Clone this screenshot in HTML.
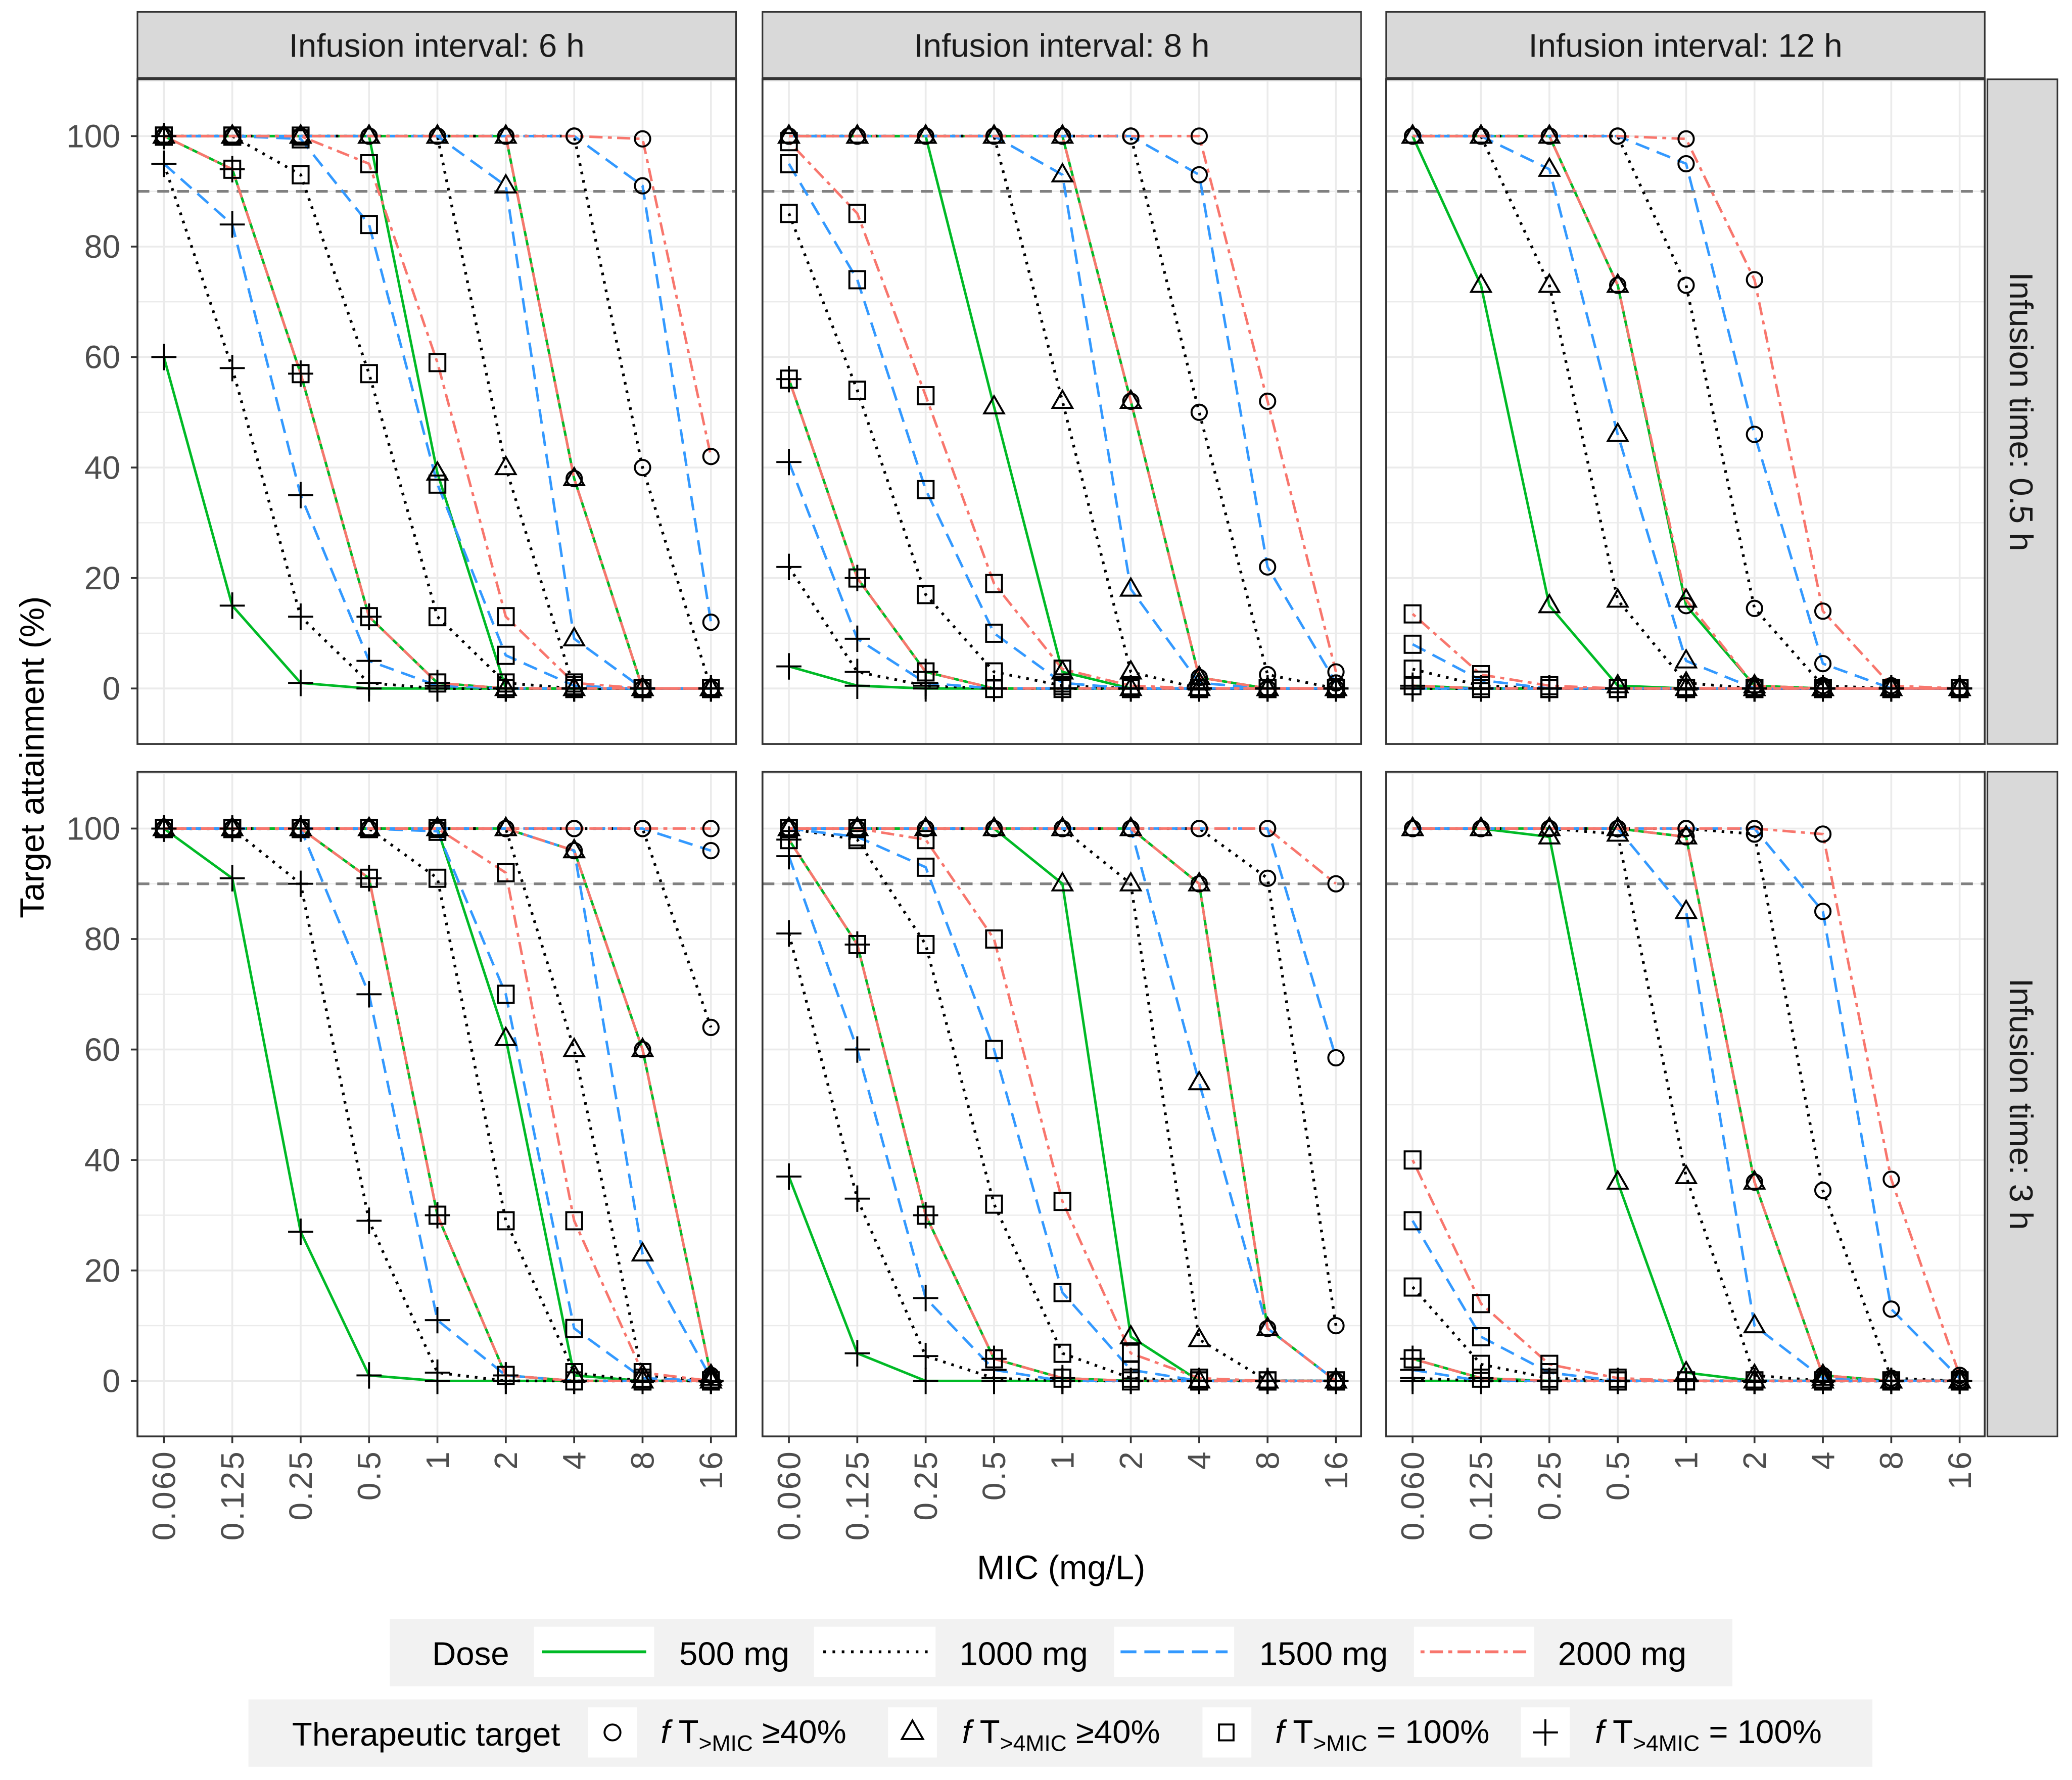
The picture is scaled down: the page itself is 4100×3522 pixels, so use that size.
<!DOCTYPE html>
<html><head><meta charset="utf-8"><style>
html,body{margin:0;padding:0;background:#fff}
svg{display:block;font-family:"Liberation Sans",Arial,sans-serif}
</style></head><body>
<svg id="chart" width="4100" height="3522" viewBox="0 0 1568 1347" xmlns="http://www.w3.org/2000/svg">
<rect width="1568" height="1347" fill="#fff"/>
<g id="root"></g>
<text x="803" y="1195" font-size="25.5" text-anchor="middle" fill="#000">MIC (mg/L)</text>
<text transform="translate(33,573) rotate(-90)" font-size="25.5" text-anchor="middle" fill="#000">Target attainment (%)</text>
<g>
<rect x="295" y="1225" width="1016" height="51" fill="#f2f2f2"/>
<text x="327" y="1260" font-size="25">Dose</text>
<rect x="404" y="1231" width="91" height="38" fill="#fff"/>
<line x1="410" y1="1250" x2="489" y2="1250" stroke="#00BA26" stroke-width="2.2"/>
<text x="514" y="1260" font-size="25">500 mg</text>
<rect x="616" y="1231" width="92" height="38" fill="#fff"/>
<line x1="623" y1="1250" x2="703" y2="1250" stroke="#000" stroke-width="2.2" stroke-dasharray="2,5"/>
<text x="726" y="1260" font-size="25">1000 mg</text>
<rect x="843" y="1231" width="91" height="38" fill="#fff"/>
<line x1="848" y1="1250" x2="929" y2="1250" stroke="#3399FF" stroke-width="2.2" stroke-dasharray="12,6"/>
<text x="953" y="1260" font-size="25">1500 mg</text>
<rect x="1070" y="1231" width="91" height="38" fill="#fff"/>
<line x1="1075" y1="1250" x2="1156" y2="1250" stroke="#F8766D" stroke-width="2.2" stroke-dasharray="3,4,10,4"/>
<text x="1179" y="1260" font-size="25">2000 mg</text>
</g>
<g>
<rect x="188" y="1286" width="1229" height="51" fill="#f2f2f2"/>
<text x="221" y="1321" font-size="25">Therapeutic target</text>
<rect x="445" y="1292" width="37" height="38" fill="#fff"/>
<circle cx="463.5" cy="1311" r="6" fill="none" stroke="#000" stroke-width="1.5"/>
<text x="500" y="1319" font-size="25"><tspan font-style="italic">f</tspan> T<tspan font-size="17" dy="6">&gt;MIC</tspan><tspan dy="-6"> ≥40%</tspan></text>
<rect x="672" y="1292" width="37" height="38" fill="#fff"/>
<polygon points="690.5,1302 698.5,1316 682.5,1316" fill="none" stroke="#000" stroke-width="1.5"/>
<text x="728" y="1319" font-size="25"><tspan font-style="italic">f</tspan> T<tspan font-size="17" dy="6">&gt;4MIC</tspan><tspan dy="-6"> ≥40%</tspan></text>
<rect x="910" y="1292" width="37" height="38" fill="#fff"/>
<rect x="922.5" y="1305" width="11" height="12" fill="none" stroke="#000" stroke-width="1.5"/>
<text x="965" y="1319" font-size="25"><tspan font-style="italic">f</tspan> T<tspan font-size="17" dy="6">&gt;MIC</tspan><tspan dy="-6"> = 100%</tspan></text>
<rect x="1151" y="1292" width="37" height="38" fill="#fff"/>
<path d="M1160,1311 H1179 M1169.5,1301 V1321" stroke="#000" stroke-width="1.5"/>
<text x="1207" y="1319" font-size="25"><tspan font-style="italic">f</tspan> T<tspan font-size="17" dy="6">&gt;4MIC</tspan><tspan dy="-6"> = 100%</tspan></text>
</g>
</svg>
<script>
const micLabels = ["0.060","0.125","0.25","0.5","1","2","4","8","16"];
const yTicks = [0,20,40,60,80,100];
const doses = ["500 mg","1000 mg","1500 mg","2000 mg"];
const intervalLabels = ["Infusion interval: 6 h","Infusion interval: 8 h","Infusion interval: 12 h"];
const infusionLabels = ["Infusion time: 0.5 h","Infusion time: 3 h"];
const targetThreshold = 90;

// Panel A: 6 h, 0.5 h ; rows = 500,1000,1500,2000 mg
const A_circle = [[100,100,100,100,100,100,38,0,0],[100,100,100,100,100,100,100,40,0],[100,100,100,100,100,100,100,91,12],[100,100,100,100,100,100,100,99.5,42]];
const A_tri = [[100,100,100,100,39,0,0,0,0],[100,100,100,100,100,40,0,0,0],[100,100,100,100,100,91,9,0,0],[100,100,100,100,100,100,38,0,0]];
const A_square = [[100,94,57,13,1,0,0,0,0],[100,100,93,57,13,1,0,0,0],[100,100,99.5,84,37,6,0.5,0,0],[100,100,100,95,59,13,1,0,0]];
const A_plus = [[60,15,1,0,0,0,0,0,0],[95,58,13,1,0,0,0,0,0],[95,84,35,5,0.5,0,0,0,0],[100,94,57,13,1,0,0,0,0]];
// Panel B: 8 h, 0.5 h
const B_circle = [[100,100,100,100,100,52,2,0,0],[100,100,100,100,100,100,50,2.5,0],[100,100,100,100,100,100,93,22,1],[100,100,100,100,100,100,100,52,3]];
const B_tri = [[100,100,100,51,3,0,0,0,0],[100,100,100,100,52,3,0,0,0],[100,100,100,100,93,18,1,0,0],[100,100,100,100,100,52,2,0,0]];
const B_square = [[56,20,3,0,0,0,0,0,0],[86,54,17,3,0.5,0,0,0,0],[95,74,36,10,1,0,0,0,0],[99,86,53,19,3.5,0.5,0,0,0]];
const B_plus = [[4,0.5,0,0,0,0,0,0,0],[22,3,0.5,0,0,0,0,0,0],[41,9,1,0,0,0,0,0,0],[56,20,3,0,0,0,0,0,0]];
// Panel C: 12 h, 0.5 h
const C_circle = [[100,100,100,73,15,0.5,0,0,0],[100,100,100,100,73,14.5,0.5,0,0],[100,100,100,100,95,46,4.5,0,0],[100,100,100,100,99.5,74,14,0.5,0]];
const C_tri = [[100,73,15,0.5,0,0,0,0,0],[100,100,73,16,1,0,0,0,0],[100,100,94,46,5,0,0,0,0],[100,100,100,73,16,0.5,0,0,0]];
const C_square = [[0.5,0,0,0,0,0,0,0,0],[3.5,0.5,0,0,0,0,0,0,0],[8,1.5,0,0,0,0,0,0,0],[13.5,2.5,0.5,0,0,0,0,0,0]];
const C_plus = [[0,0,0,0,0,0,0,0,0],[0,0,0,0,0,0,0,0,0],[0,0,0,0,0,0,0,0,0],[0.5,0,0,0,0,0,0,0,0]];
// Panel D: 6 h, 3 h
const D_circle = [[100,100,100,100,100,100,96,60,1],[100,100,100,100,100,100,100,100,64],[100,100,100,100,100,100,100,100,96],[100,100,100,100,100,100,100,100,100]];
const D_tri = [[100,100,100,100,100,62,1,0,0],[100,100,100,100,100,100,60,1,0],[100,100,100,100,100,100,96,23,0.5],[100,100,100,100,100,100,96,60,1]];
const D_square = [[100,100,100,91,30,1,0,0,0],[100,100,100,100,91,29,1.5,0,0],[100,100,100,100,99.5,70,9.5,0.5,0],[100,100,100,100,100,92,29,1.5,0]];
const D_plus = [[100,91,27,1,0,0,0,0,0],[100,100,90,29,1.5,0,0,0,0],[100,100,100,70,11,1,0,0,0],[100,100,100,91,30,1,0,0,0]];
// Panel E: 8 h, 3 h
const E_circle = [[100,100,100,100,100,100,90,9.5,0],[100,100,100,100,100,100,100,91,10],[100,100,100,100,100,100,100,100,58.5],[100,100,100,100,100,100,100,100,90]];
const E_tri = [[100,100,100,100,90,8,0,0,0],[100,100,100,100,100,90,7.5,0,0],[100,100,100,100,100,100,54,9.5,0],[100,100,100,100,100,100,90,9.5,0]];
const E_square = [[98,79,30,4,0.5,0,0,0,0],[100,98,79,32,5,0.5,0,0,0],[100,98.5,93,60,16,2,0,0,0],[100,100,98,80,32.5,5,0.5,0,0]];
const E_plus = [[37,5,0,0,0,0,0,0,0],[81,33,4.5,0.5,0,0,0,0,0],[95,60,15,2,0,0,0,0,0],[98,79,30,4,0.5,0,0,0,0]];
// Panel F: 12 h, 3 h
const F_circle = [[100,100,100,100,98.5,36,1,0,0],[100,100,100,100,100,99,34.5,0.5,0],[100,100,100,100,100,100,85,13,0.5],[100,100,100,100,100,100,99,36.5,1]];
const F_tri = [[100,100,98.5,36,1.5,0,0,0,0],[100,100,100,99,37,1,0,0,0],[100,100,100,100,85,10,0.5,0,0],[100,100,100,100,98.5,36,1,0,0]];
const F_square = [[4,0.5,0,0,0,0,0,0,0],[17,3,0.5,0,0,0,0,0,0],[29,8,1.5,0,0,0,0,0,0],[40,14,3,0.5,0,0,0,0,0]];
const F_plus = [[0,0,0,0,0,0,0,0,0],[0.5,0,0,0,0,0,0,0,0],[2,0,0,0,0,0,0,0,0],[4,0.5,0,0,0,0,0,0,0]];

const panelData = [
  [A_circle,A_tri,A_square,A_plus],[B_circle,B_tri,B_square,B_plus],[C_circle,C_tri,C_square,C_plus],
  [D_circle,D_tri,D_square,D_plus],[E_circle,E_tri,E_square,E_plus],[F_circle,F_tri,F_square,F_plus]
];
const targetNames = ["ft-mic-40","ft-4mic-40","ft-mic-100","ft-4mic-100"];
const doseColors = ["#00BA26","#000000","#3399FF","#F8766D"];
const doseDash = ["none","2,4.5","11,6","3,4,10,4"];

const NS = "http://www.w3.org/2000/svg";
const root = document.getElementById("root");
function mk(tag, attrs, parent){
  const e = document.createElementNS(NS, tag);
  for (const k in attrs) e.setAttribute(k, attrs[k]);
  (parent||root).appendChild(e);
  return e;
}
const colX = [104, 577, 1049];
const rowY = [60, 584];
const PW = 453, PH = 503;
function xScale(col, i){ return colX[col] + 20 + i*51.75; }
function yScale(row, v){ return rowY[row] + 43 + (100 - v)*4.18; }

for (let c=0;c<3;c++){
  const g = mk("g",{});
  
  
  mk("rect",{x:colX[c],y:9,width:PW,height:50,fill:"#d9d9d9",stroke:"#333",'stroke-width':1.2},g);
  const t = mk("text",{x:colX[c]+PW/2,y:43,'font-size':25,'text-anchor':'middle',fill:'#1a1a1a'},g);
  t.textContent = intervalLabels[c];
}
for (let r=0;r<2;r++){
  const g = mk("g",{});
  
  
  mk("rect",{x:1504,y:rowY[r],width:53,height:PH,fill:"#d9d9d9",stroke:"#333",'stroke-width':1.2},g);
  const t = mk("text",{transform:`translate(1521,${rowY[r]+PH/2}) rotate(90)`,'font-size':25,'text-anchor':'middle',fill:'#1a1a1a'},g);
  t.textContent = infusionLabels[r];
}

function marker(g, t, x, y){
  let e;
  if (t===0) e = mk("circle",{cx:x,cy:y,r:5.8,fill:"none",stroke:"#000",'stroke-width':1.5},g);
  else if (t===1) e = mk("polygon",{points:`${x},${y-8} ${x+7.5},${y+5} ${x-7.5},${y+5}`,fill:"none",stroke:"#000",'stroke-width':1.5},g);
  else if (t===2) e = mk("rect",{x:x-6,y:y-6.5,width:12,height:13,fill:"none",stroke:"#000",'stroke-width':1.5},g);
  else e = mk("path",{d:`M${x-9.5},${y} H${x+9.5} M${x},${y-10} V${y+10}`,stroke:"#000",'stroke-width':1.5},g);
  return e;
}

for (let p=0;p<6;p++){
  const col = p%3, row = Math.floor(p/3);
  const x0 = colX[col], y0 = rowY[row];
  const pg = mk("g",{});
  
  
  mk("rect",{x:x0,y:y0,width:PW,height:PH,fill:"#fff"},pg);
  for (let v=-10; v<=110; v+=10){
    const y = yScale(row,v);
    if (y<y0||y>y0+PH) continue;
    mk("line",{x1:x0,x2:x0+PW,y1:y,y2:y,stroke:"#ebebeb",'stroke-width':(v%20===0)?1.4:0.9},pg);
  }
  for (let i=0;i<micLabels.length;i++){
    const x = xScale(col,i);
    mk("line",{x1:x,x2:x,y1:y0,y2:y0+PH,stroke:"#ebebeb",'stroke-width':1.4},pg);
  }
  const th = mk("line",{x1:x0,x2:x0+PW,y1:yScale(row,targetThreshold),y2:yScale(row,targetThreshold),stroke:"#808080",'stroke-width':2,'stroke-dasharray':'9,6'},pg);
  
  
  const data = panelData[p];
  for (let d=0; d<4; d++){
    for (let t=0;t<4;t++){
      const vals = data[t][d];
      const pts = vals.map((v,i)=>`${xScale(col,i).toFixed(2)},${yScale(row,v).toFixed(2)}`).join(" ");
      const attrs = {points:pts,fill:"none",stroke:doseColors[d],'stroke-width':d===1?2.1:1.9,'stroke-linejoin':'round'};
      if (doseDash[d]!=="none") attrs['stroke-dasharray']=doseDash[d];
      const l = mk("polyline",attrs,pg);
      
      
    }
  }
  for (let d=0; d<4; d++){
    for (let t=0;t<4;t++){
      const vals = data[t][d];
      const mg = mk("g",{},pg);
      
      
      vals.forEach((v,i)=>{ marker(mg,t,xScale(col,i),yScale(row,v)); });
    }
  }
  mk("rect",{x:x0,y:y0,width:PW,height:PH,fill:"none",stroke:"#333",'stroke-width':1.4},pg);
  if (col===0){
    const ag = mk("g",{});
    
    
    yTicks.forEach(v=>{
      const y = yScale(row,v);
      mk("line",{x1:x0-5,x2:x0,y1:y,y2:y,stroke:"#333",'stroke-width':1.4},ag);
      const tx = mk("text",{x:x0-13,y:y+8.5,'font-size':24.5,'text-anchor':'end',fill:'#4d4d4d'},ag);
      tx.textContent = v;
    });
  }
  if (row===1){
    const ag = mk("g",{});
    
    
    micLabels.forEach((lab,i)=>{
      const x = xScale(col,i);
      mk("line",{x1:x,x2:x,y1:y0+PH,y2:y0+PH+5,stroke:"#333",'stroke-width':1.4},ag);
      const tx = mk("text",{transform:`translate(${x+8.5},${y0+PH+10}) rotate(-90)`,'font-size':24.5,'letter-spacing':'1.5','text-anchor':'end',fill:'#4d4d4d'},ag);
      tx.textContent = lab;
    });
  }
}
</script>
</body></html>
